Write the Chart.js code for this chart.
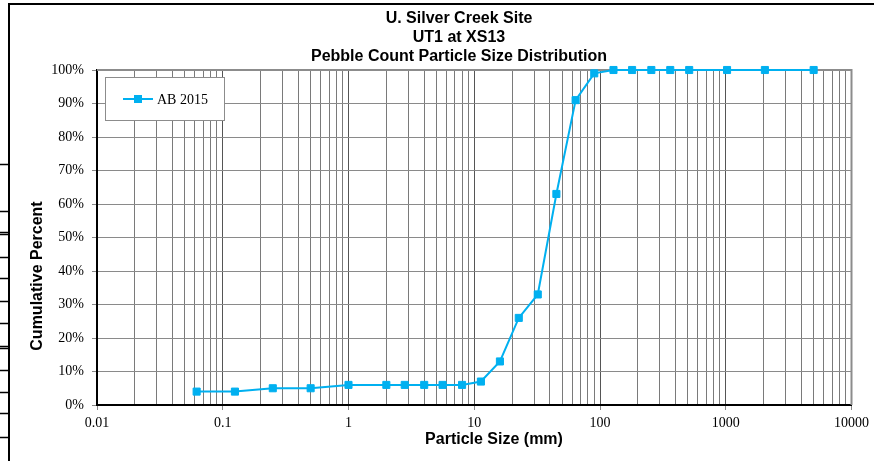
<!DOCTYPE html>
<html>
<head>
<meta charset="utf-8">
<script src="https://cdn.jsdelivr.net/npm/chart.js@4"></script>
<style>
  html, body { margin: 0; padding: 0; background: #fff; }
  #wrap { width: 874px; height: 461px; position: relative; }
</style>
</head>
<body>
<div id="wrap"><canvas id="psdChart" width="874" height="461"></canvas></div>
<script>
// particle sizes (mm) and cumulative percent finer
const sizes = [0.062, 0.125, 0.25, 0.5, 1, 2, 2.8, 4, 5.6, 8, 11.3, 16, 22.6, 32, 45, 64, 90, 128, 180, 256, 362, 512, 1024, 2048, 5000];
const percentFiner = [4, 4, 5, 5, 6, 6, 6, 6, 6, 6, 7, 13, 26, 33, 63, 91, 99, 100, 100, 100, 100, 100, 100, 100, 100];
const seriesName = "AB 2015";
const titleLines = ["U. Silver Creek Site", "UT1 at XS13", "Pebble Count Particle Size Distribution"];
const xTitle = "Particle Size (mm)";
const yTitle = "Cumulative Percent";
const xMajorTicks = [0.01, 0.1, 1, 10, 100, 1000, 10000];
const yTicks = [0, 10, 20, 30, 40, 50, 60, 70, 80, 90, 100];

const lineColor = '#00B0F0';

// build log ticks 1..9 x 10^n between the majors
function logTicks() {
    let t = [];
    for (let i = 0; i < xMajorTicks.length; i++) {
        let m = xMajorTicks[i];
        t.push({ value: m, major: true });
        if (i < xMajorTicks.length - 1) {
            for (let k = 2; k <= 9; k++) t.push({ value: +(m * k).toPrecision(6), major: false });
        }
    }
    return t;
}

// frame, titles, legend and the cut-off table lines at the far left
const decorations = {
    id: 'decorations',
    beforeDatasetsDraw(chart) {
        // plot area top/right edge, under the line
        const ctx = chart.ctx;
        const a = chart.chartArea;
        ctx.save();
        ctx.strokeStyle = '#8c8c8c';
        ctx.lineWidth = 2;
        ctx.beginPath();
        ctx.moveTo(a.left, a.top);
        ctx.lineTo(a.right, a.top);
        ctx.lineTo(a.right, a.bottom);
        ctx.stroke();
        ctx.restore();
    },
    afterDraw(chart) {
        const ctx = chart.ctx;
        ctx.save();

        // outer border
        ctx.strokeStyle = '#000';
        ctx.lineWidth = 2;
        ctx.beginPath();
        ctx.moveTo(9, 461);
        ctx.lineTo(9, 4);
        ctx.lineTo(874, 4);
        ctx.stroke();
        ctx.lineWidth = 1.5;
        [164, 211, 232, 234, 257, 278, 301, 323, 346, 348, 370, 392, 413, 437].forEach(y => {
            ctx.beginPath();
            ctx.moveTo(0, y + 0.5);
            ctx.lineTo(9, y + 0.5);
            ctx.stroke();
        });

        // titles
        ctx.fillStyle = '#000';
        ctx.textAlign = 'center';
        ctx.textBaseline = 'middle';
        ctx.font = "bold 16px 'Liberation Sans', Arial, sans-serif";
        titleLines.forEach((s, i) => ctx.fillText(s, 459, 19 + i * 19));
        ctx.fillText(xTitle, 494, 440);
        ctx.save();
        ctx.translate(38, 276);
        ctx.rotate(-Math.PI / 2);
        ctx.fillText(yTitle, 0, 0);
        ctx.restore();

        // legend box
        ctx.fillStyle = '#fff';
        ctx.fillRect(105, 77, 120, 44);
        ctx.strokeStyle = '#8c8c8c';
        ctx.lineWidth = 1;
        ctx.strokeRect(105.5, 77.5, 119, 43);
        ctx.strokeStyle = lineColor;
        ctx.lineWidth = 2;
        ctx.beginPath();
        ctx.moveTo(123, 99);
        ctx.lineTo(153, 99);
        ctx.stroke();
        ctx.fillStyle = lineColor;
        ctx.fillRect(134, 95, 8, 8);
        ctx.fillStyle = '#000';
        ctx.textAlign = 'left';
        ctx.font = "14px 'Liberation Serif', 'Times New Roman', serif";
        ctx.fillText(chart.data.datasets[0].label, 157, 100);

        ctx.restore();
    }
};

let ctx = document.getElementById('psdChart').getContext('2d');
new Chart(ctx, {
    type: 'line',
    data: {
        datasets: [{
            label: seriesName,
            data: sizes.map((s, i) => ({ x: s, y: percentFiner[i] })),
            borderColor: lineColor,
            backgroundColor: lineColor,
            borderWidth: 2,
            pointStyle: 'rect',
            pointRadius: 5,
            pointBorderWidth: 1,
            pointHoverRadius: 5,
            tension: 0,
            clip: false
        }]
    },
    options: {
        responsive: false,
        devicePixelRatio: 1,
        animation: false,
        events: [],
        layout: { padding: { left: 0, right: 21, top: 70, bottom: 0 } },
        plugins: {
            legend: { display: false },
            title: { display: false },
            tooltip: { enabled: false }
        },
        scales: {
            x: {
                type: 'logarithmic',
                min: 0.01,
                max: 10000,
                afterBuildTicks: scale => { scale.ticks = logTicks(); },
                afterFit: scale => { scale.height = 56; },
                ticks: {
                    autoSkip: false,
                    maxRotation: 0,
                    padding: 5,
                    color: '#000',
                    font: { family: "'Liberation Serif', 'Times New Roman', serif", size: 14 },
                    callback: (v) => xMajorTicks.includes(v) ? String(v) : ''
                },
                grid: {
                    color: c => (c.tick && c.tick.major) ? '#555' : '#7a7a7a',
                    lineWidth: 1,
                    tickLength: 5,
                    tickColor: c => (c.tick && c.tick.major) ? '#888' : 'rgba(0,0,0,0)'
                },
                border: { color: '#000', width: 2 }
            },
            y: {
                min: 0,
                max: 100,
                afterBuildTicks: scale => { scale.ticks = yTicks.map(v => ({ value: v })); },
                afterFit: scale => { scale.width = 97; },
                ticks: {
                    padding: 8,
                    color: '#000',
                    font: { family: "'Liberation Serif', 'Times New Roman', serif", size: 14 },
                    callback: v => v + '%'
                },
                grid: {
                    color: '#8a8a8a',
                    lineWidth: 1,
                    tickLength: 5,
                    tickColor: '#888'
                },
                border: { color: '#000', width: 2 }
            }
        }
    },
    plugins: [decorations]
});
</script>
</body>
</html>
